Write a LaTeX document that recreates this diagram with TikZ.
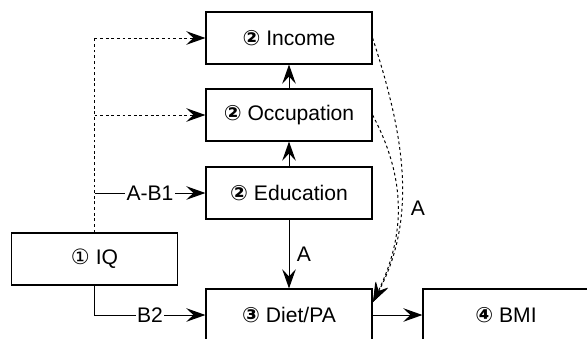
\documentclass[tikz,border=0pt]{standalone}
\usepackage{fontspec}
\setmainfont{Liberation Sans}
\newfontfamily\circfont{DejaVu Sans}
\usetikzlibrary{arrows.meta}

\newcommand{\stepno}[1]{{\circfont\bfseries #1}}

\begin{document}
\begin{tikzpicture}[x=0.025cm, y=0.025cm,
		font=\fontsize{15}{18}\selectfont,
		box/.style={draw, line width=0.8pt, minimum width=4.15cm, minimum height=1.3cm, inner sep=0pt},
		link/.style={line width=0.7pt, -{Stealth[length=4.8mm, width=3.4mm, inset=1.8mm]}},
		dsh/.style={line width=0.7pt, dash pattern=on 2pt off 2pt}]
	
	\useasboundingbox (0,0) rectangle (587,338);
	
	\begin{scope}
		\node[box] (inc) at (289,300) {\stepno{②} Income};
		\node[box] (occ) at (289,223) {\stepno{②} Occupation};
		\node[box] (edu) at (289,145) {\stepno{②} Education};
		\node[box] (iq) at (94.5,79) {{\circfont ①} IQ};
		\node[box] (diet) at (289,23) {\stepno{③} Diet/PA};
		\node[box] (bmi) at (506,23) {\stepno{④} BMI};
	\end{scope}
	
	\coordinate (jinc) at (iq.north |- inc.west);
	\coordinate (jocc) at (iq.north |- occ.west);
	\coordinate (jedu) at (iq.north |- edu.west);
	\coordinate (dtip) at (373,36);
	
	\draw[dsh] (iq.north) -- (jinc);
	\draw[dsh, link] (jinc) -- (inc.west);
	\draw[dsh, link] (jocc) -- (occ.west);
	\draw[link] (jedu) -- node[fill=white, inner sep=1pt] {A-B1} (edu.west);
	\draw[link] (iq.south) |- node[pos=0.75, fill=white, inner sep=1pt] {B2} (diet.west);
	
	\draw[link] (edu.north) -- (occ.south);
	\draw[link] (occ.north) -- (inc.south);
	\draw[link] (edu.south) -- node[right, xshift=2pt] {A} (diet.north);
	\draw[link] (diet.east) -- (bmi.west);
	
	\draw[dsh, link] (inc.east) to[out=-72, in=62, looseness=0.95] (dtip);
	\draw[dsh, link] (occ.east) to[out=-62, in=64] (dtip);
	\node at (418,130) {A};
	
\end{tikzpicture}
\end{document}
